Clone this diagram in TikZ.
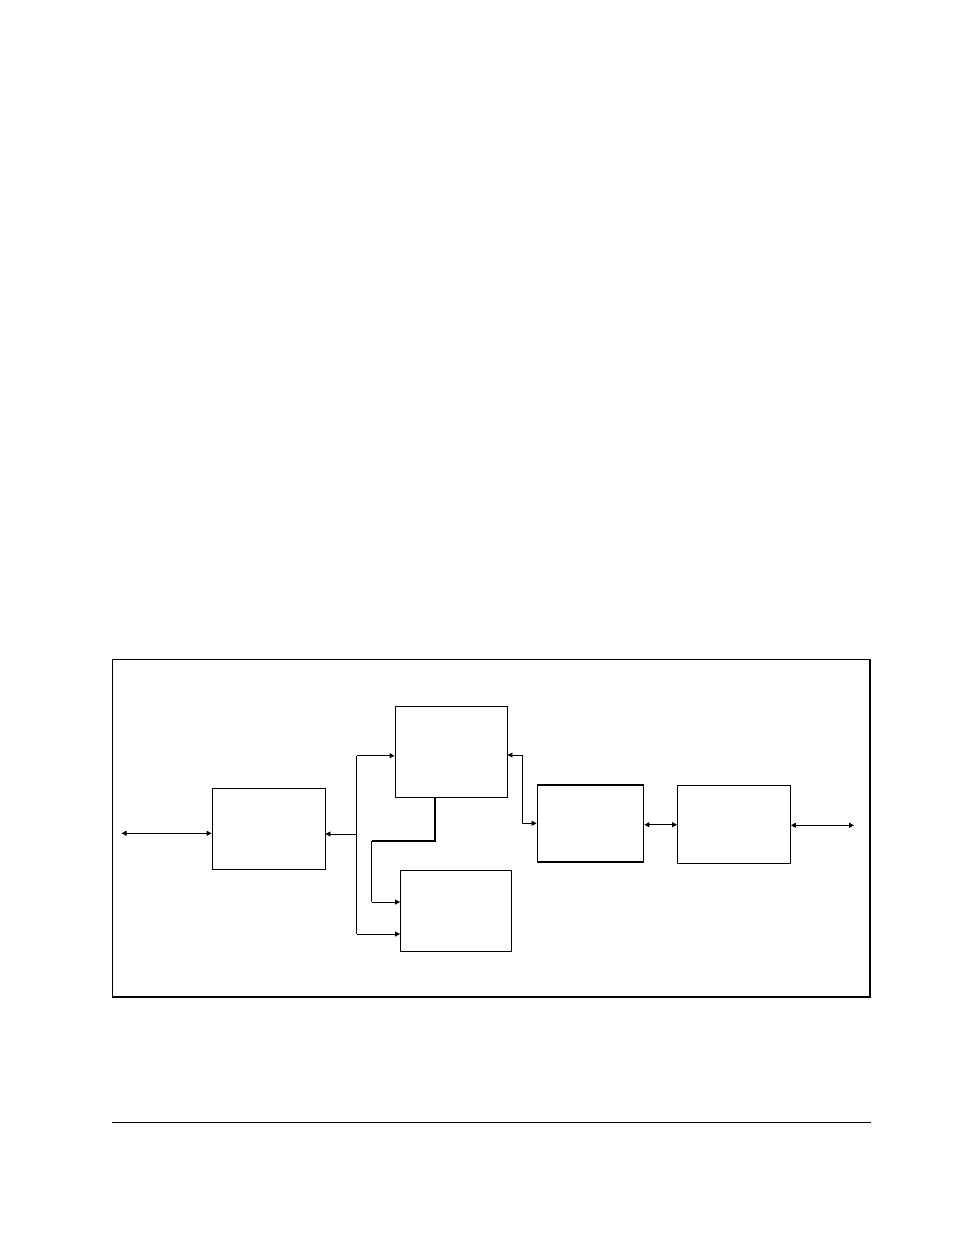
\documentclass[tikz,border=0pt]{standalone}
\usetikzlibrary{arrows.meta}
\begin{document}
\begin{tikzpicture}[x=1pt,y=-1pt,
  blk/.style={draw,line width=0.9pt,inner sep=0pt},
  thickblk/.style={draw,line width=1.8pt,inner sep=0pt},
  conn/.style={line width=0.9pt},
  tip/.style={-{Triangle[length=5pt,width=5pt]}},
  dtip/.style={{Triangle[length=5pt,width=5pt]}-{Triangle[length=5pt,width=5pt]}}]
\useasboundingbox (0,0) rectangle (954,1235);
% frame
\draw[line width=1pt] (870,659.5) -- (112.5,659.5) -- (112.5,996.5);
\draw[line width=2pt] (112,996.5) -- (870,996.5) -- (870,659);
% rule
\draw[line width=1pt] (112,1122.3) -- (870.5,1122.3);
% boxes
\node[blk,minimum width=113pt,minimum height=81pt] (A) at (268.5,828.5) {};
\node[blk,minimum width=112pt,minimum height=91pt] (B) at (451,751.5) {};
\node[blk,minimum width=111pt,minimum height=81pt] (C) at (456,910.5) {};
\node[thickblk,minimum width=106pt,minimum height=77pt] (D) at (590.5,823.5) {};
\node[blk,minimum width=113pt,minimum height=78pt] (E) at (734,824.3) {};
% coordinates
\coordinate (lend) at (121.5,833.3);
\coordinate (rend) at (854,825.3);
\coordinate (bus) at (356.7,834);
\coordinate (busT) at (356.7,755.7);
\coordinate (busB) at (356.7,934);
\coordinate (k1) at (435,797);
\coordinate (k2) at (435,840.7);
\coordinate (k3) at (371.7,840.7);
\coordinate (k4) at (371.7,902);
\coordinate (j1) at (522.3,755);
\coordinate (j2) at (522.3,823.3);
% connectors
\draw[conn,dtip] (lend) -- (lend -| A.west);
\draw[conn,tip] (bus) -- (bus -| A.east);
\draw[conn] (busT) -- (busB);
\draw[conn,tip] (busT) -- (busT -| B.west);
\draw[conn,tip] (busB) -- (busB -| C.west);
\draw[line width=1.8pt] (k1) -- (k2) -- (k3);
\draw[conn] (k3) -- (k4);
\draw[conn,tip] (k4) -- (k4 -| C.west);
\draw[conn,tip] (j1) -- (j1 -| B.east);
\draw[conn,tip] (j1) -- (j2) -- (j2 -| D.west);
\draw[conn,dtip] (D.east |- 0,824.7) -- (E.west |- 0,824.7);
\draw[conn,dtip] (rend -| E.east) -- (rend);
\end{tikzpicture}
\end{document}
